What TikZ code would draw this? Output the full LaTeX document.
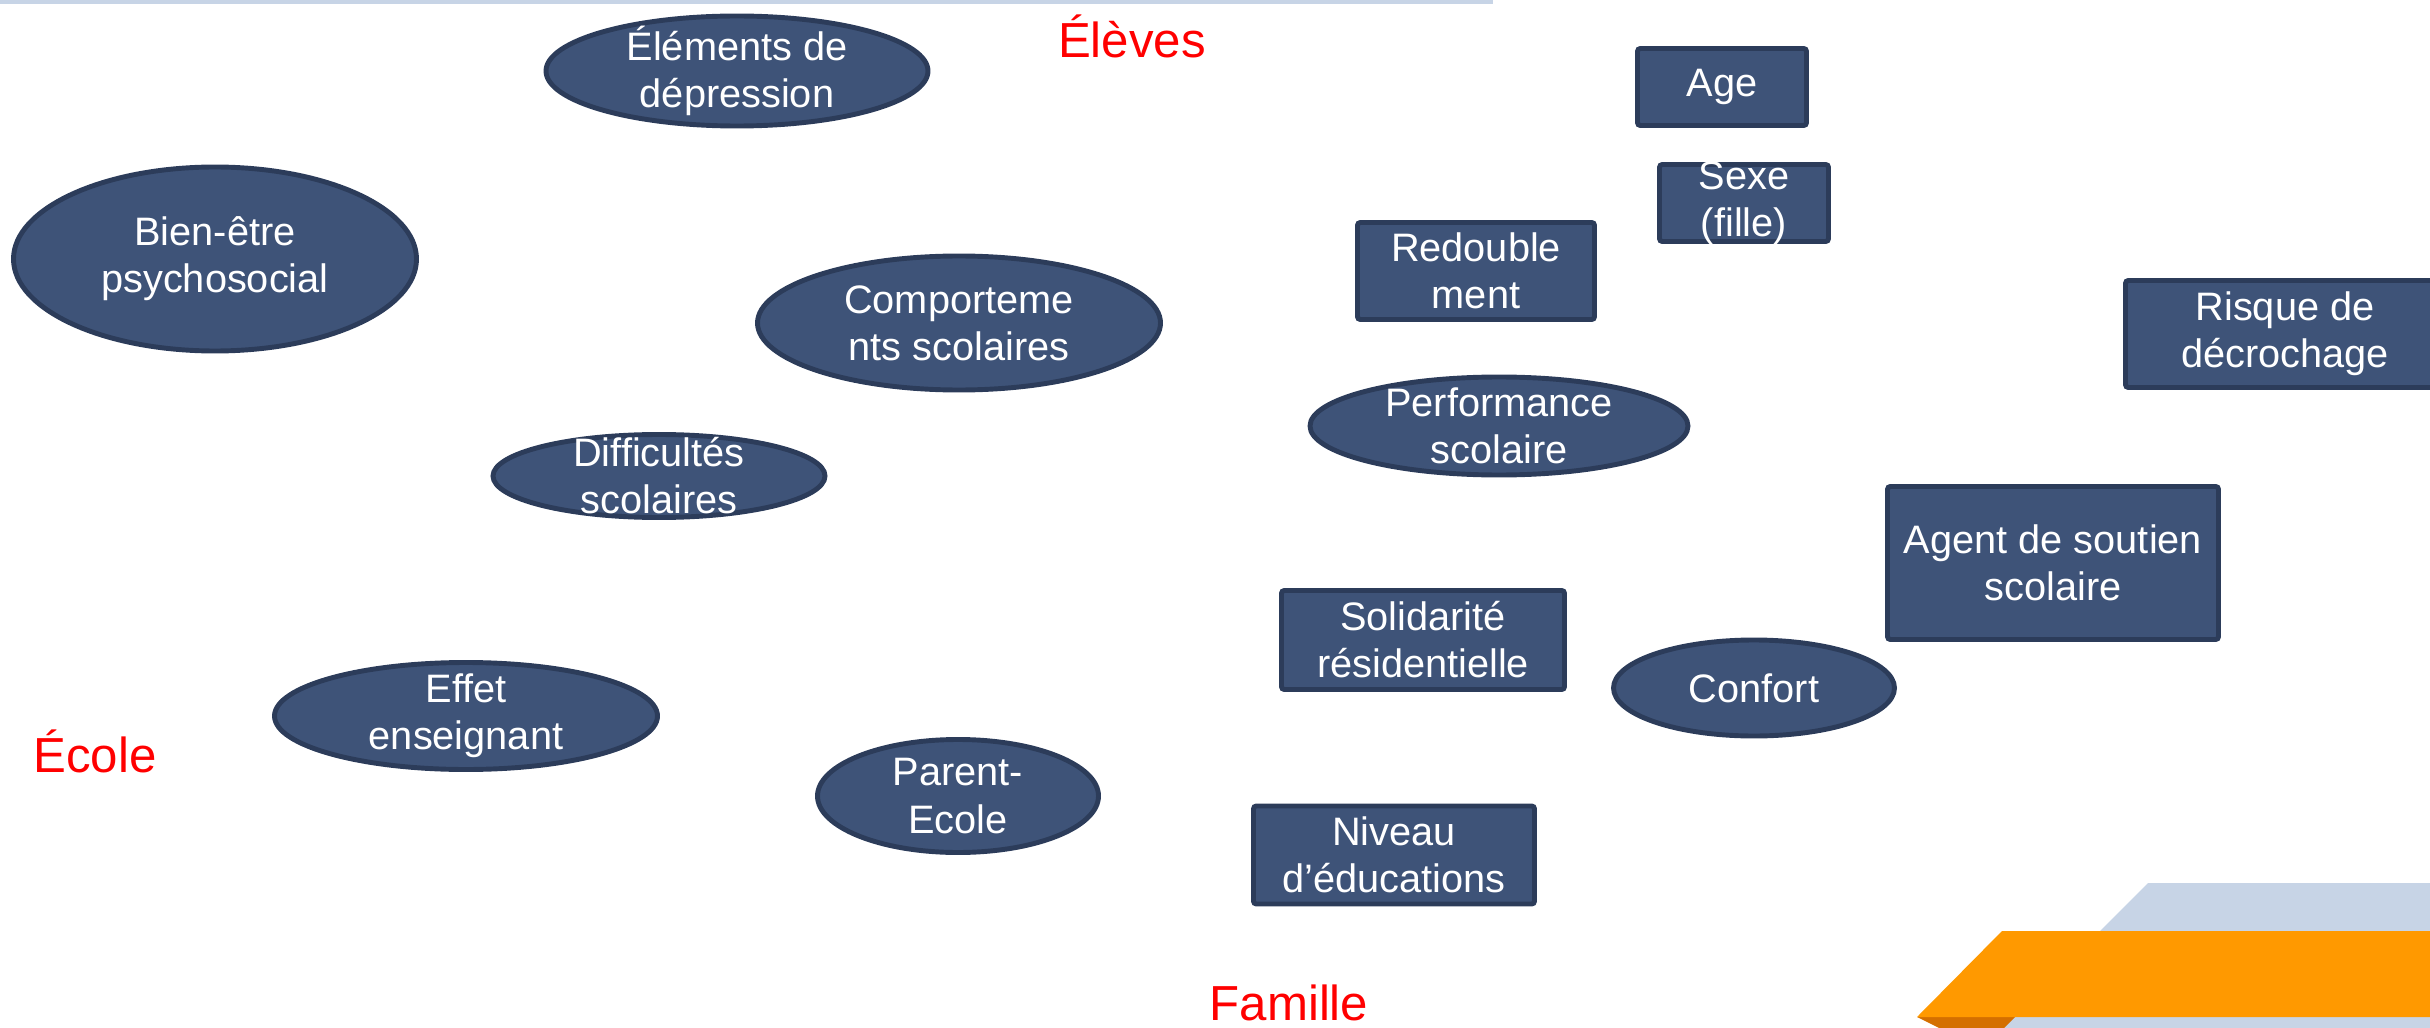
\documentclass[tikz,border=0pt]{standalone}
\usepackage{fontspec}
\setmainfont{Liberation Sans}
\usepackage{xcolor}
\usetikzlibrary{shapes.geometric}
\definecolor{dcNavy}{HTML}{3E5378}
\definecolor{dcEdge}{HTML}{2C3C5A}
\definecolor{dcRed}{HTML}{FF0000}
\definecolor{dcMist}{HTML}{C7D4E6}
\definecolor{dcOrange}{HTML}{FF9900}
\definecolor{dcRust}{HTML}{D46F00}

\begin{document}
\begin{tikzpicture}[
  oval/.style={ellipse,draw=dcEdge,line width=1.4pt,fill=dcNavy,inner sep=0pt},
  boite/.style={rectangle,draw=dcEdge,line width=1.4pt,fill=dcNavy,inner sep=0pt,
                rounded corners=0.8pt},
  every label/.style={text=white,align=center,inner sep=0pt,
                      font=\fontsize{11.3}{13.4}\selectfont},
  axe/.style={text=dcRed,inner sep=0pt,anchor=base,font=\fontsize{14}{16.8}\selectfont}]

\useasboundingbox (0,0) rectangle (24.30,-10.28);

% bandeaux
\fill[dcMist] (0,0) rectangle (14.93,-0.04);
\fill[dcMist] (21.48,-8.83) -- (24.40,-8.83) -- (24.40,-10.28) -- (20.03,-10.28) -- cycle;
\fill[dcRust] (19.17,-10.17) -- (20.15,-10.17) -- (20.04,-10.28) -- (19.39,-10.28) -- cycle;
\fill[dcOrange] (20.02,-9.31) -- (24.40,-9.31) -- (24.40,-10.17) -- (19.17,-10.17) -- cycle;

\node[oval,minimum width=3.82cm,minimum height=1.10cm,label={center:Éléments de\\dépression}] (depr) at (7.37,-0.71) {};
\node[oval,minimum width=4.03cm,minimum height=1.84cm,label={center:Bien-être\\psychosocial}] (bien) at (2.15,-2.59) {};
\node[oval,minimum width=4.03cm,minimum height=1.34cm,label={center:Comporteme\\nts scolaires}] (comp) at (9.59,-3.23) {};
\node[oval,minimum width=3.32cm,minimum height=0.83cm,label={center:Difficultés\\scolaires}] (diff) at (6.59,-4.76) {};
\node[oval,minimum width=3.78cm,minimum height=0.98cm,label={center:Performance\\scolaire}] (perf) at (14.99,-4.26) {};
\node[oval,minimum width=3.83cm,minimum height=1.07cm,label={center:Effet\\enseignant}] (effet) at (4.66,-7.16) {};
\node[oval,minimum width=2.81cm,minimum height=1.13cm,label={center:Parent-\\Ecole}] (parent) at (9.58,-7.96) {};
\node[oval,minimum width=2.81cm,minimum height=0.96cm,label={center:Confort}] (confort) at (17.54,-6.88) {};

\node[boite,minimum width=1.69cm,minimum height=0.77cm,label={center:Age}] (age) at (17.22,-0.87) {};
\node[boite,minimum width=1.69cm,minimum height=0.77cm,label={center:Sexe\\(fille)}] (sexe) at (17.44,-2.03) {};
\node[boite,minimum width=2.37cm,minimum height=0.97cm,label={center:Redouble\\ment}] (redoub) at (14.76,-2.71) {};
\node[boite,minimum width=3.19cm,minimum height=1.07cm,label={center:Risque de\\décrochage}] (risque) at (22.85,-3.34) {};
\node[boite,minimum width=3.31cm,minimum height=1.53cm,label={center:Agent de soutien\\scolaire}] (agent) at (20.53,-5.63) {};
\node[boite,minimum width=2.83cm,minimum height=0.99cm,label={center:Solidarité\\résidentielle}] (solid) at (14.23,-6.40) {};
\node[boite,minimum width=2.81cm,minimum height=0.98cm,label={center:Niveau\\d’éducations}] (niveau) at (13.94,-8.55) {};

\node[axe] (eleves) at (11.32,-0.58) {Élèves};
\node[axe] (ecole) at (0.95,-7.72) {École};
\node[axe] (famille) at (12.89,-10.20) {Famille};
\end{tikzpicture}
\end{document}
